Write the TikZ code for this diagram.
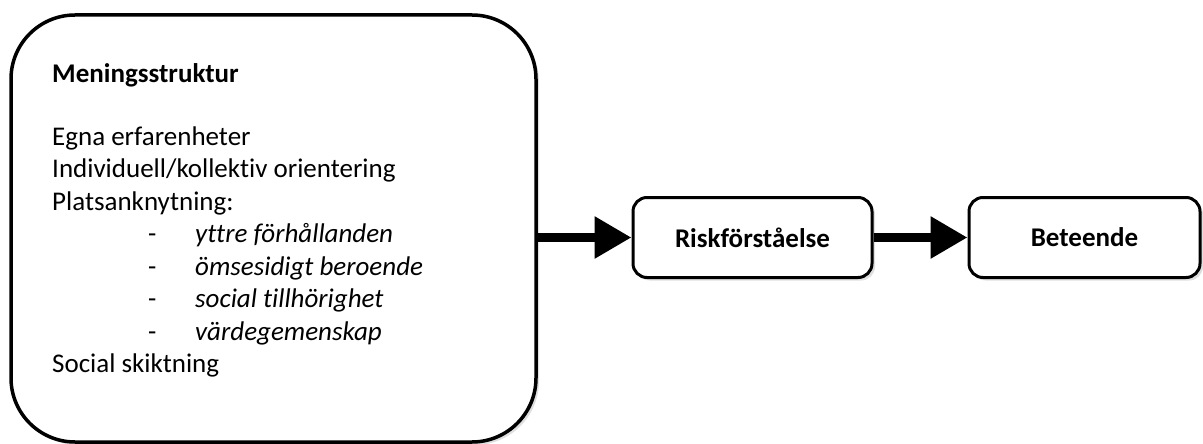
\documentclass[tikz,border=0pt]{standalone}
\usepackage{fontspec}
\setmainfont{Carlito}[Ligatures=NoCommon]
\usepackage{xcolor}
\usepackage{tikz}
\usetikzlibrary{arrows.meta,shadows}

\begin{document}
\begin{tikzpicture}[x=1pt,y=-1pt]
\tikzstyle{box}=[draw, line width=3pt, rounded corners=14pt, fill=white,
  drop shadow={opacity=.25, shadow xshift=3pt, shadow yshift=-3pt},
  font=\fontsize{27}{32}\selectfont\bfseries]
\tikzstyle{txt}=[anchor=base west, inner sep=0pt, font=\fontsize{27}{32}\selectfont]
\tikzstyle{flow}=[line width=9pt, -{Triangle[length=37pt, width=40pt]}]
\useasboundingbox (0,0) rectangle (1203,444);

\node[box, rounded corners=64pt, line width=3.5pt, minimum width=525pt, minimum height=427pt] (mening) at (273.5,228.5) {};
\node[box, minimum width=239pt, minimum height=80pt] (risk) at (752.5,237.5) {Riskförståelse};
\node[box, minimum width=231pt, minimum height=80pt] (beteende) at (1084.5,237.5) {Beteende};

\node[txt, font=\fontsize{27}{32}\selectfont\bfseries] (rubrik) at (52,82) {Meningsstruktur};
\node[txt] (egna) at (52,145) {Egna erfarenheter};
\node[txt] (orient) at (52,177.5) {Individuell/kollektiv orientering};
\node[txt] (plats) at (52,210) {Platsanknytning:};
\node[txt] (d1) at (148,242.5) {-};
\node[txt] (d2) at (148,275) {-};
\node[txt] (d3) at (148,307.5) {-};
\node[txt] (d4) at (148,340) {-};
\node[txt] (yttre) at (195,242.5) {\itshape yttre förhållanden};
\node[txt] (omse) at (195,275) {\itshape ömsesidigt beroende};
\node[txt] (social) at (195,307.5) {\itshape social tillhörighet};
\node[txt] (varde) at (195,340) {\itshape värdegemenskap};
\node[txt] (skikt) at (52,372.5) {Social skiktning};

\draw[flow] (mening.east |- risk.west) -- (risk.west);
\draw[flow] (risk.east) -- (beteende.west);

\end{tikzpicture}
\end{document}
